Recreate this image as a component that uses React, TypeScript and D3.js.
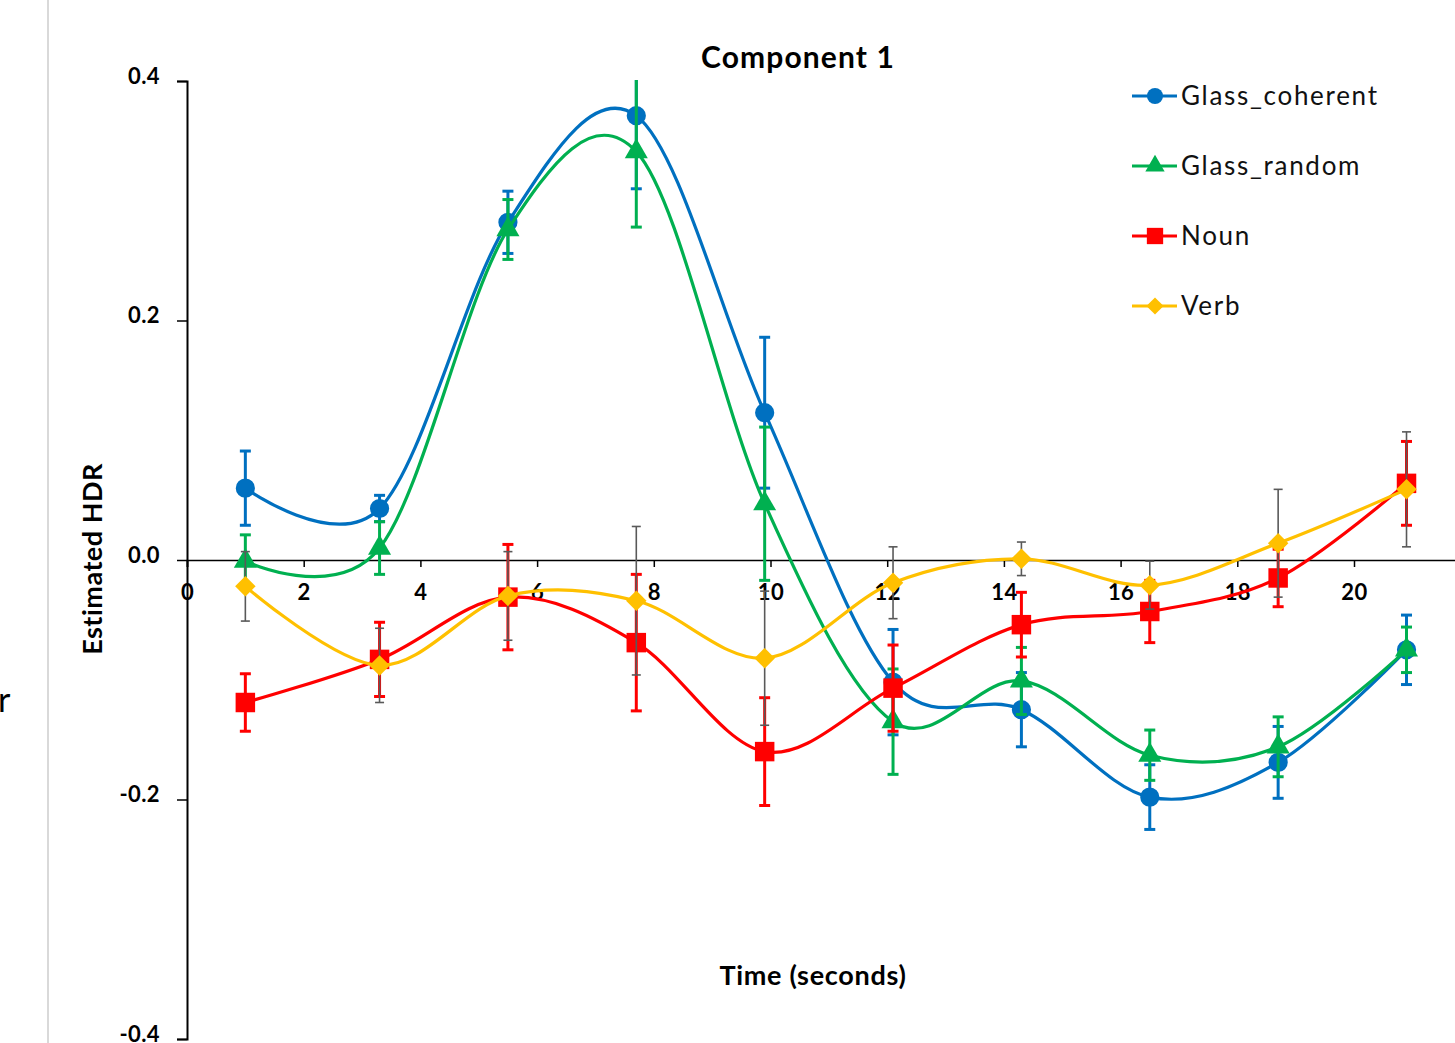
import React, { useEffect, useRef } from 'react';
import * as d3 from 'd3';

const times = [1.0, 3.3, 5.5, 7.7, 9.9, 12.1, 14.3, 16.5, 18.7, 20.9];

const glassCoherent = [0.06, 0.043, 0.282, 0.371, 0.123, -0.102, -0.125, -0.198, -0.169, -0.075];
const glassCoherentErr = [0.031, 0.011, 0.026, 0.061, 0.063, 0.044, 0.031, 0.027, 0.03, 0.029];
const glassRandom = [-0.001, 0.01, 0.276, 0.341, 0.047, -0.135, -0.101, -0.163, -0.156, -0.075];
const glassRandomErr = [0.022, 0.022, 0.025, 0.063, 0.064, 0.044, 0.028, 0.021, 0.025, 0.019];
const noun = [-0.119, -0.083, -0.031, -0.069, -0.16, -0.107, -0.054, -0.043, -0.015, 0.064];
const nounErr = [0.024, 0.031, 0.044, 0.057, 0.045, 0.036, 0.027, 0.026, 0.024, 0.035];
const verb = [-0.022, -0.088, -0.03, -0.034, -0.082, -0.019, 0.001, -0.021, 0.014, 0.059];
const verbErr = [0.029, 0.031, 0.037, 0.062, 0.056, 0.03, 0.014, 0.02, 0.045, 0.048];

const seriesNames = ['Glass_coherent', 'Glass_random', 'Noun', 'Verb'];
const yTicks = [-0.4, -0.2, 0.0, 0.2, 0.4];
const xTicks = [0, 2, 4, 6, 8, 10, 12, 14, 16, 18, 20];

const FONT = 'Lato, "Open Sans", sans-serif';

const App: React.FC = () => {
  const svgRef = useRef<SVGSVGElement | null>(null);

  useEffect(() => {
    if (!svgRef.current) return;
    const svg = d3.select(svgRef.current);
    svg.selectAll('*').remove();

    const x = d3.scaleLinear().domain([0, 22]).range([187, 187 + 22 * 58.35]);
    const y = d3.scaleLinear().domain([-0.4, 0.4]).range([1039, 81]);

    const series = [
      { name: seriesNames[0], values: glassCoherent, err: glassCoherentErr, color: '#0070C0', errColor: '#0070C0', errWidth: 3, shape: 'circle' },
      { name: seriesNames[1], values: glassRandom, err: glassRandomErr, color: '#00B050', errColor: '#00B050', errWidth: 3, shape: 'triangle' },
      { name: seriesNames[2], values: noun, err: nounErr, color: '#FF0000', errColor: '#FF0000', errWidth: 3, shape: 'square' },
      { name: seriesNames[3], values: verb, err: verbErr, color: '#FFC000', errColor: '#595959', errWidth: 1.6, shape: 'diamond' },
    ];

    const symbolPath = (shape: string, scale: number) => {
      if (shape === 'circle') return d3.symbol(d3.symbolCircle, 290 * scale)();
      if (shape === 'triangle') return d3.symbol(d3.symbolTriangle, 230 * scale)();
      if (shape === 'square') return d3.symbol(d3.symbolSquare, 380 * scale)();
      return d3.symbol(d3.symbolSquare, 210 * scale)();
    };

    // left-side leftovers of the original figure
    svg.append('line')
      .attr('x1', 48).attr('x2', 48).attr('y1', 0).attr('y2', 1043)
      .attr('stroke', '#d9d9d9').attr('stroke-width', 2);
    svg.append('text')
      .attr('x', -2).attr('y', 712)
      .attr('font-family', FONT).attr('font-size', 34).attr('fill', '#000')
      .text('r');

    svg.append('defs').append('clipPath').attr('id', 'plot-clip')
      .append('rect').attr('x', 150).attr('y', 80).attr('width', 1400).attr('height', 960);

    const fmt = (d: d3.NumberValue) => d3.format('.1f')(d).replace('\u2212', '-');

    // y axis
    const yAxis = svg.append('g').attr('transform', `translate(${x(0)},0)`)
      .call(d3.axisLeft(y).tickValues(yTicks).tickSize(10).tickFormat(fmt));
    yAxis.select('.domain').attr('stroke', '#000').attr('stroke-width', 2);
    yAxis.selectAll('.tick line').attr('stroke', '#000').attr('stroke-width', 1.5);
    yAxis.selectAll('.tick text')
      .attr('x', -27).attr('dy', '0.1em')
      .attr('font-family', FONT).attr('font-size', 22).attr('font-weight', 700).attr('fill', '#000')
      .attr('letter-spacing', 0.4);

    // x axis at y = 0
    const xAxis = svg.append('g').attr('transform', `translate(0,${y(0)})`)
      .call(d3.axisBottom(x).tickValues(xTicks).tickSize(7).tickFormat(d3.format('d')));
    xAxis.select('.domain').attr('stroke', '#000').attr('stroke-width', 1.6);
    xAxis.selectAll('.tick line').attr('stroke', '#000').attr('stroke-width', 1.5);
    xAxis.selectAll('.tick text')
      .attr('y', 24)
      .attr('font-family', FONT).attr('font-size', 22).attr('font-weight', 700).attr('fill', '#000')
      .attr('letter-spacing', 0.4);

    const plot = svg.append('g').attr('clip-path', 'url(#plot-clip)');

    const line = d3.line<number>()
      .x((_, i) => x(times[i]))
      .y(d => y(d))
      .curve(d3.curveCatmullRom.alpha(0));

    series.forEach(s => {
      const g = plot.append('g');
      g.append('path')
        .attr('d', line(s.values))
        .attr('fill', 'none')
        .attr('stroke', s.color)
        .attr('stroke-width', 3.2);

      const capW = s.errWidth > 2 ? 5.5 : 4.5;
      s.values.forEach((v, i) => {
        const cx = x(times[i]);
        const top = y(v + s.err[i]);
        const bot = y(v - s.err[i]);
        g.append('line').attr('x1', cx).attr('x2', cx).attr('y1', top).attr('y2', bot)
          .attr('stroke', s.errColor).attr('stroke-width', s.errWidth);
        [top, bot].forEach(yy => {
          g.append('line').attr('x1', cx - capW).attr('x2', cx + capW).attr('y1', yy).attr('y2', yy)
            .attr('stroke', s.errColor).attr('stroke-width', s.errWidth);
        });
      });

      g.selectAll('path.marker')
        .data(s.values)
        .join('path')
        .attr('class', 'marker')
        .attr('d', symbolPath(s.shape, 1))
        .attr('transform', (d, i) => `translate(${x(times[i])},${y(d)})${s.shape === 'diamond' ? ' rotate(45)' : ''}`)
        .attr('fill', s.color);
    });

    // title and axis labels
    svg.append('text')
      .attr('x', 798).attr('y', 68).attr('text-anchor', 'middle')
      .attr('font-family', FONT).attr('font-size', 30).attr('font-weight', 700).attr('fill', '#000')
      .attr('letter-spacing', 1.1)
      .text('Component 1');
    svg.append('text')
      .attr('x', 813).attr('y', 985).attr('text-anchor', 'middle')
      .attr('font-family', FONT).attr('font-size', 27).attr('font-weight', 700).attr('fill', '#000')
      .attr('letter-spacing', 0.7)
      .text('Time (seconds)');
    svg.append('text')
      .attr('transform', 'translate(102,559) rotate(-90)').attr('text-anchor', 'middle')
      .attr('font-family', FONT).attr('font-size', 27).attr('font-weight', 700).attr('fill', '#000')
      .attr('letter-spacing', 0.5)
      .text('Estimated HDR');

    // legend
    const legend = svg.append('g');
    series.forEach((s, i) => {
      const ly = 96 + i * 70;
      legend.append('line').attr('x1', 1132).attr('x2', 1177).attr('y1', ly).attr('y2', ly)
        .attr('stroke', s.color).attr('stroke-width', 3.2);
      legend.append('path')
        .attr('d', symbolPath(s.shape, 0.7))
        .attr('transform', `translate(1155,${ly})${s.shape === 'diamond' ? ' rotate(45)' : ''}`)
        .attr('fill', s.color);
      legend.append('text')
        .attr('x', 1181).attr('y', ly + 9)
        .attr('font-family', FONT).attr('font-size', 26).attr('fill', '#111')
        .attr('letter-spacing', 1.7)
        .text(s.name);
    });
  }, []);

  return (
    <svg ref={svgRef} width="1455" height="1043"
      style={{ position: 'absolute', left: 0, top: 0, background: '#fff' }}></svg>
  );
};

export default App;
